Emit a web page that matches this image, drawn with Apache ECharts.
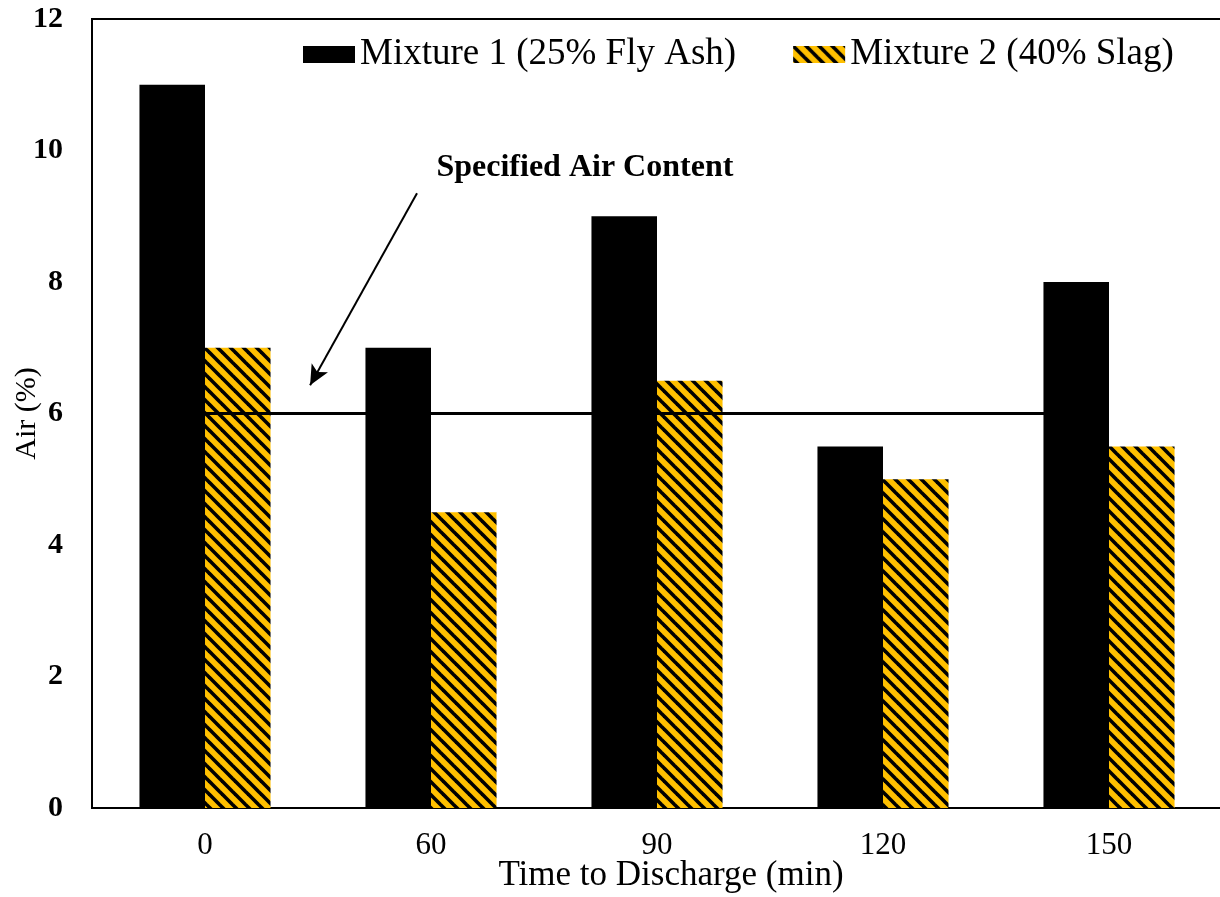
<!DOCTYPE html>
<html><head><meta charset="utf-8">
<script src="https://cdn.jsdelivr.net/npm/echarts@6/dist/echarts.min.js"></script>
<style>html,body{margin:0;padding:0;background:#fff}#c{width:1220px;height:897px}</style>
</head><body><div id="c"></div>
<script>
const categories = ['0', '60', '90', '120', '150'];
const mixture1 = [11, 7, 9, 5.5, 8];
const mixture2 = [7, 4.5, 6.5, 5, 5.5];
const specifiedAir = 6;
const yTicks = [0, 2, 4, 6, 8, 10, 12];
const seriesNames = ['Mixture 1 (25% Fly Ash)', 'Mixture 2 (40% Slag)'];
const annotationText = 'Specified Air Content';

const FONT = "'Liberation Serif','Times New Roman',serif";

function makePattern() {
  const s = 13;
  const c = document.createElement('canvas');
  c.width = s; c.height = s;
  const g = c.getContext('2d');
  g.fillStyle = '#FFC000';
  g.fillRect(0, 0, s, s);
  g.strokeStyle = '#000';
  g.lineWidth = 3.6;
  for (const off of [-s, 0, s]) {
    g.beginPath();
    g.moveTo(off - 2, -2);
    g.lineTo(off + s + 2, s + 2);
    g.stroke();
  }
  return c;
}
const pattern = { image: makePattern(), repeat: 'repeat' };

const chart = echarts.init(document.getElementById('c'));
chart.setOption({
  animation: false,
  textStyle: { fontFamily: FONT },
  legend: {
    top: 36,
    left: 303,
    padding: 0,
    itemWidth: 52,
    itemHeight: 17,
    itemGap: 57,
    icon: 'rect',
    textStyle: { fontFamily: FONT, fontSize: 37, color: '#000', padding: [0, 0, 0, 0] },
    data: seriesNames
  },
  grid: { left: 92, right: -2, top: 19, bottom: 89, outerBoundsMode: 'none', containLabel: false,
          show: true, borderColor: '#000', borderWidth: 2 },
  xAxis: [{
    type: 'category',
    data: categories,
    name: 'Time to Discharge (min)',
    nameLocation: 'middle',
    nameMoveOverlap: false,
    nameGap: 50,
    nameTextStyle: { fontFamily: FONT, fontSize: 35, color: '#000', padding: [0, 0, 0, 28] },
    axisLine: { lineStyle: { color: '#000', width: 2 } },
    axisTick: { show: false },
    axisLabel: { fontFamily: FONT, fontSize: 31, color: '#000', margin: 22 }
  }, {
    type: 'value', min: -0.5, max: 4.5, show: false
  }],
  yAxis: {
    type: 'value',
    min: yTicks[0], max: yTicks[yTicks.length - 1], interval: 2,
    name: 'Air (%)',
    nameLocation: 'middle',
    nameMoveOverlap: false,
    nameGap: 50,
    nameTextStyle: { fontFamily: FONT, fontSize: 30, color: '#000' },
    axisLine: { show: true, onZero: false, lineStyle: { color: '#000', width: 2 } },
    axisTick: { show: false },
    splitLine: { show: false },
    axisLabel: { fontFamily: FONT, fontSize: 30, fontWeight: 'bold', color: '#000', margin: 29 }
  },
  series: [{
    name: seriesNames[0],
    type: 'bar',
    data: mixture1,
    barGap: '0%',
    barCategoryGap: '42%',
    itemStyle: { color: '#000' }
  }, {
    name: seriesNames[1],
    type: 'bar',
    data: mixture2,
    itemStyle: { color: pattern }
  }, {
    name: 'annotation',
    type: 'line',
    xAxisIndex: 1,
    z: 10,
    data: [],
    markLine: {
      silent: true,
      symbol: ['none', 'none'],
      lineStyle: { color: '#000', width: 3, type: 'solid' },
      label: { show: false },
      data: [
        [{ coord: [0, specifiedAir] }, { coord: [categories.length - 1, specifiedAir] }],
        [{ coord: [0.938, 9.35], symbol: 'none', lineStyle: { width: 2 } },
         { coord: [0.465, 6.43], symbol: 'arrow', symbolSize: [14, 20], lineStyle: { width: 2 } }]
      ]
    },
    markPoint: {
      silent: true,
      symbolSize: 0,
      label: { show: true, formatter: annotationText, fontFamily: FONT, fontSize: 32,
               fontWeight: 'bold', color: '#000', position: 'inside' },
      data: [{ coord: [1.681, 9.74] }]
    }
  }]
});
</script></body></html>
